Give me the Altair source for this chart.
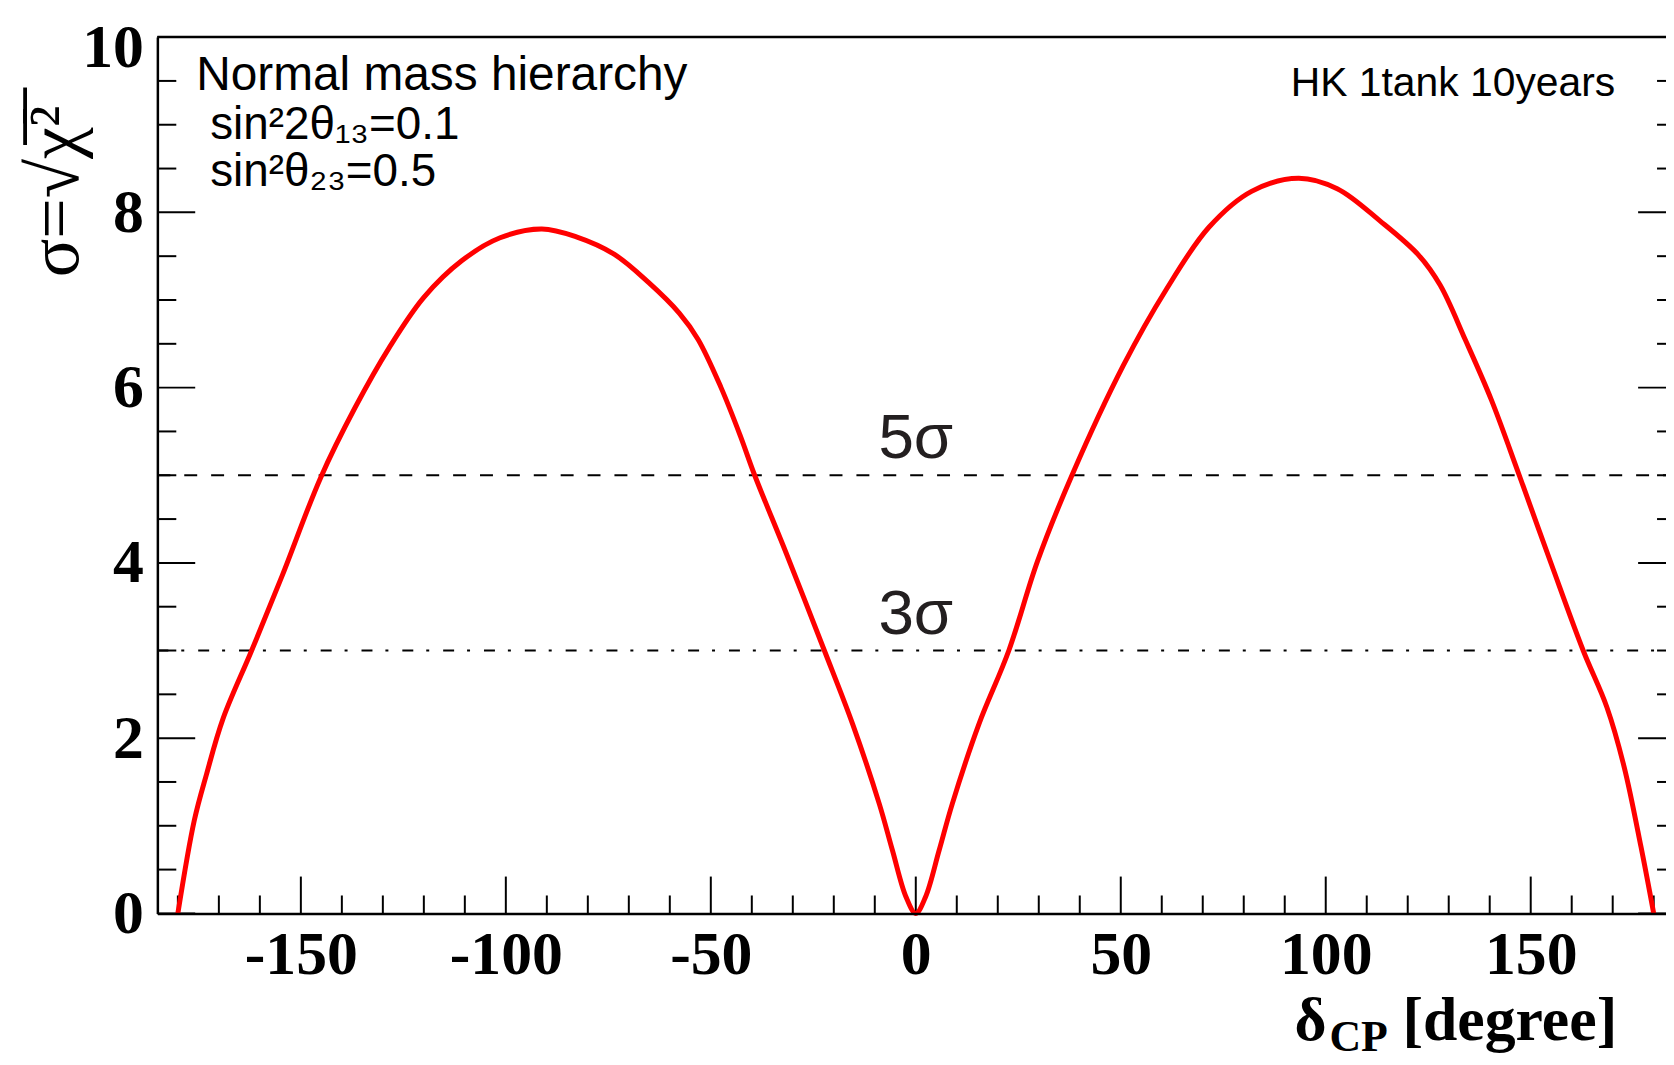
import altair as alt
import pandas as pd

# ---------------- data ----------------
delta_cp = [-180, -176, -173, -169, -162, -154.5, -145.2, -136.8, -128.4, -120,
            -110.7, -101.4, -91.2, -82.8, -73.5, -65.2, -57.7, -53.1, -47.5, -42.8,
            -39.3, -31.6, -22.3, -15.4, -8.9, -5.7, -2.4, 0, 2.4, 5.7,
            8.9, 15.4, 22.7, 29.7, 38.1, 50.6, 61.1, 71.5, 81.9, 93.4,
            102.8, 113.3, 122.7, 127.9, 134.1, 140.4, 147.2, 155.0, 162.8, 168.6,
            172.8, 176.9, 180]
sigma = [0, 1.06, 1.59, 2.22, 3.0, 3.86, 4.97, 5.77, 6.46, 7.03,
         7.45, 7.71, 7.81, 7.72, 7.52, 7.2, 6.85, 6.55, 6.0, 5.45,
         5.0, 4.11, 3.0, 2.16, 1.25, 0.72, 0.19, 0, 0.19, 0.72,
         1.25, 2.16, 3.0, 4.02, 5.0, 6.25, 7.12, 7.83, 8.24, 8.39,
         8.27, 7.90, 7.51, 7.17, 6.54, 5.86, 5.0, 3.99, 3.0, 2.35,
         1.67, 0.76, 0]

x_major_ticks = [-150, -100, -50, 0, 50, 100, 150]
x_minor_ticks = [-180, -170, -160, -140, -130, -120, -110, -90, -80, -70, -60,
                 -40, -30, -20, -10, 10, 20, 30, 40, 60, 70, 80, 90,
                 110, 120, 130, 140, 160, 170, 180]
y_major_ticks = [0, 2, 4, 6, 8, 10]
y_minor_ticks = [0.5, 1, 1.5, 2.5, 3, 3.5, 4.5, 5, 5.5, 6.5, 7, 7.5, 8.5, 9, 9.5]

level_5 = [5]
level_3 = [3]
level_labels = ["5σ", "3σ"]
level_values = [5, 3]
level_label_x = [0, 0]

text_hierarchy = "Normal mass hierarchy"
text_theta13 = "sin²2θ₁₃=0.1"
text_theta23 = "sin²θ₂₃=0.5"
text_exposure = "HK 1tank 10years"
text_ytitle = "σ=√χ̅²̅"
text_xtitle_delta = "δ"
text_xtitle_sub = "CP"
text_xtitle_unit = "[degree]"

# ---------------- layout ----------------
W, H = 1515, 880
xs = alt.Scale(domain=[-185, 183], nice=False, zero=False)
ys = alt.Scale(domain=[0, 10], nice=False, zero=False)

SERIF = "Liberation Serif"
SANS = "Liberation Sans"

x_axis = alt.Axis(values=x_major_ticks, ticks=False, tickSize=0, grid=False, title=None,
                  labelFont=SERIF, labelFontWeight="bold", labelFontSize=62,
                  labelColor="black", labelPadding=60, labelBaseline="alphabetic",
                  labelFlush=False, labelOverlap=False, labelExpr="datum.value + ''",
                  domainColor="black", domainWidth=2.5, zindex=1)
y_axis = alt.Axis(values=y_major_ticks, ticks=False, tickSize=0, grid=False, title=None,
                  labelFont=SERIF, labelFontWeight="bold", labelFontSize=62,
                  labelColor="black", labelPadding=14, labelBaseline="middle",
                  labelOffset={"condition": {"test": "datum.value === 10", "value": 11}, "value": 0},
                  labelFlush=False, labelOverlap=False, labelExpr="datum.value + ''",
                  domainColor="black", domainWidth=2.5, zindex=1)

X = lambda f: alt.X(f, scale=xs, axis=x_axis)
Y = lambda f: alt.Y(f, scale=ys, axis=y_axis)

curve_df = pd.DataFrame({"delta": delta_cp, "sigma": sigma})

curve = alt.Chart(curve_df).mark_line(
    color="#ff0000", strokeWidth=5, interpolate="catmull-rom"
).encode(x=X("delta:Q"), y=Y("sigma:Q"))

line5 = alt.Chart(pd.DataFrame({"level": level_5})).mark_rule(
    color="black", strokeWidth=2, strokeDash=[13, 14]
).encode(y=Y("level:Q"), x=alt.value(0), x2=alt.value(W + 10))

line3 = alt.Chart(pd.DataFrame({"level": level_3})).mark_rule(
    color="black", strokeWidth=2, strokeDash=[11, 13, 3, 14]
).encode(y=Y("level:Q"), x=alt.value(0), x2=alt.value(W + 10))

level_text = alt.Chart(pd.DataFrame({"x": level_label_x, "level": level_values, "label": level_labels})).mark_text(
    font=SANS, fontSize=64, color="#231f20", align="center", baseline="alphabetic", dy=-17
).encode(x=X("x:Q"), y=Y("level:Q"), text="label:N")

# inward ticks
def yticks(vals, x0, x1):
    return alt.Chart(pd.DataFrame({"v": vals})).mark_rule(color="black", strokeWidth=2).encode(
        y=Y("v:Q"), x=alt.value(x0), x2=alt.value(x1))

def xticks(vals, length):
    return alt.Chart(pd.DataFrame({"v": vals})).mark_rule(color="black", strokeWidth=2).encode(
        x=X("v:Q"), y=alt.value(H), y2=alt.value(H - length))

RIGHT = W + 10
ticks = [
    yticks(y_major_ticks, 0, 38),
    yticks(y_minor_ticks, 0, 19),
    yticks(y_major_ticks, RIGHT - 38, RIGHT),
    yticks(y_minor_ticks, RIGHT - 19, RIGHT),
    xticks(x_major_ticks, 37),
    xticks(x_minor_ticks, 18),
]

top_frame = alt.Chart(pd.DataFrame({"v": [10]})).mark_rule(color="black", strokeWidth=2.5).encode(
    y=Y("v:Q"), x=alt.value(0), x2=alt.value(RIGHT))

def note(txt, x, y, size, font=SANS, weight="normal", align="left", angle=0, baseline="alphabetic"):
    return alt.Chart(pd.DataFrame({"t": [txt]})).mark_text(
        x=x, y=y, fontSize=size, font=font, fontWeight=weight, align=align,
        baseline=baseline, angle=angle, color="black"
    ).encode(text="t:N")

notes = [
    note(text_hierarchy, 39, 53, 48),
    note(text_theta13, 53, 102, 46),
    note(text_theta23, 53, 150, 46),
    note(text_exposure, 1464, 59, 41, align="right"),
    note(text_ytitle, -102, 155, 72, font=SERIF, align="center", angle=270, baseline="middle"),
    note(text_xtitle_delta, 1142, 1007, 62, font=SERIF, weight="bold"),
    note(text_xtitle_sub, 1177, 1018, 44, font=SERIF, weight="bold"),
    note(text_xtitle_unit, 1466, 1007, 62, font=SERIF, weight="bold", align="right"),
]

chart = alt.layer(
    *ticks, line5, line3, curve, top_frame, level_text, *notes
).properties(
    width=W, height=H,
    autosize=alt.AutoSizeParams(type="none"),
    padding={"left": 150, "top": 27, "right": 0, "bottom": 148},
    background="white",
).configure_view(stroke=None)

chart.save("out.html", embed_options={"renderer": "svg", "actions": False})
